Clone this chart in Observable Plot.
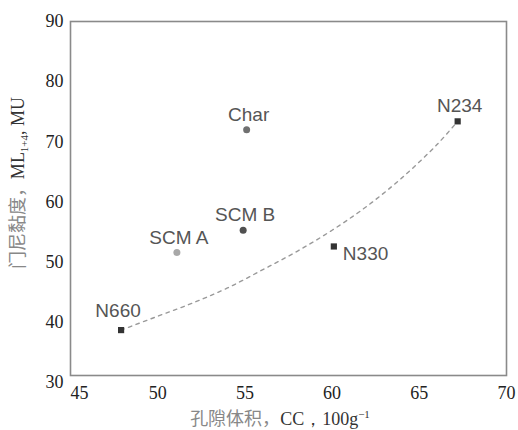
<!DOCTYPE html>
<html>
<head>
<meta charset="utf-8">
<script src="https://cdn.jsdelivr.net/npm/d3@7"></script>
<script src="https://cdn.jsdelivr.net/npm/@observablehq/plot@0.6"></script>
<style>
  html, body { margin: 0; padding: 0; background: #fff; overflow: hidden; }
  #chart svg { display: block; }
</style>
</head>
<body>
<div id="chart"></div>
<script>
// ---- data ----
const names = ["N660", "N330", "N234", "SCM A", "SCM B", "Char"];
const poreVolume = [47.9, 60.1, 67.2, 51.1, 54.9, 55.1];   // CC/100g
const mooney = [38.7, 52.6, 73.4, 51.6, 55.3, 72.0];        // ML(1+4), MU
const kinds = ["black", "black", "black", "scmA", "scmB", "char"];

// dashed trend curve
const fitX = [47.9, 50, 52, 54, 56, 58, 60, 62, 64, 66, 67.2];
const fitY = [38.7, 41.0, 43.2, 45.7, 48.7, 51.8, 55.3, 59.3, 64.0, 69.5, 73.4];

const xTicks = [45, 50, 55, 60, 65, 70];
const yTicks = [30, 40, 50, 60, 70, 80, 90];

const points = names.map((n, i) => ({name: n, x: poreVolume[i], y: mooney[i], kind: kinds[i]}));
const curve = fitX.map((x, i) => ({x, y: fitY[i]}));

const W = 518, H = 430;
const serif = "'Liberation Serif', 'Times New Roman', serif";
const sans = "'Liberation Sans', Arial, sans-serif";

const plot = Plot.plot({
  width: W,
  height: H,
  marginLeft: 70,
  marginRight: 12,
  marginTop: 21,
  marginBottom: 55,
  style: {fontFamily: serif, fontSize: "18px", color: "#222", background: "#fff"},
  x: {domain: [45, 70]},
  y: {domain: [31.15, 90]},
  color: {domain: ["black", "scmA", "scmB", "char"], range: ["#333", "#a8a8a8", "#505050", "#707070"]},
  symbol: {domain: ["black", "scmA", "scmB", "char"], range: ["square", "circle", "circle", "circle"]},
  marks: [
    Plot.frame({stroke: "#8a8a8a", strokeWidth: 1.6}),
    Plot.axisX(xTicks.filter(d => d === 45), {tickSize: 0, tickPadding: 11, dx: 9, label: null, fill: "#222"}),
    Plot.axisX(xTicks.filter(d => d !== 45), {tickSize: 0, tickPadding: 11, label: null, fill: "#222"}),
    Plot.axisY(yTicks, {tickSize: 0, tickPadding: 7, label: null, fill: "#222"}),
    Plot.line(curve, {x: "x", y: "y", curve: "catmull-rom", stroke: "#999", strokeWidth: 1.4, strokeDasharray: "3.5,4.5"}),
    Plot.dot(points, {x: "x", y: "y", symbol: "kind", fill: "kind", r: 3.5}),
    Plot.text(points.filter(d => d.name !== "N330" && d.name !== "N660"), {
      x: "x", y: "y", text: "name", dy: -15, dx: 2,
      fontFamily: sans, fontSize: 19, fill: "#555"
    }),
    Plot.text(points.filter(d => d.name === "N660"), {
      x: "x", y: "y", text: "name", dy: -19, dx: -3,
      fontFamily: sans, fontSize: 19, fill: "#555"
    }),
    Plot.text(points.filter(d => d.name === "N330"), {
      x: "x", y: "y", text: "name", dy: 7, dx: 9, textAnchor: "start",
      fontFamily: sans, fontSize: 19, fill: "#555"
    })
  ]
});

document.getElementById("chart").appendChild(plot);

// axis titles with sub/superscripts (real text)
const svg = d3.select(plot);
const cjk = "'Noto Sans CJK SC', sans-serif";

const yl = svg.append("text")
  .attr("transform", "translate(24,183) rotate(-90)")
  .attr("text-anchor", "middle")
  .attr("font-size", 18);
yl.append("tspan").attr("font-family", cjk).attr("fill", "#888").text("门尼黏度，");
yl.append("tspan").attr("font-family", serif).attr("fill", "#333").text("ML");
yl.append("tspan").attr("font-family", serif).attr("fill", "#333").attr("font-size", 11).attr("dy", 4).text("1+4");
yl.append("tspan").attr("font-family", serif).attr("fill", "#333").attr("dy", -4).text(", MU");

const xl = svg.append("text")
  .attr("x", 280).attr("y", 425)
  .attr("text-anchor", "middle")
  .attr("font-size", 18);
xl.append("tspan").attr("font-family", cjk).attr("fill", "#888").text("孔隙体积，");
xl.append("tspan").attr("font-family", serif).attr("fill", "#333").text("CC，100g");
xl.append("tspan").attr("font-family", serif).attr("fill", "#333").attr("font-size", 11).attr("dy", -7).text("−1");
</script>
</body>
</html>
